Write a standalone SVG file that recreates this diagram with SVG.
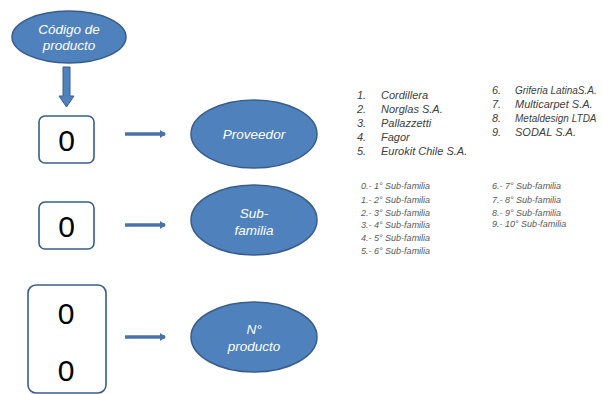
<svg xmlns="http://www.w3.org/2000/svg" width="603" height="394" viewBox="0 0 603 394">
  <defs>
    <marker id="head" markerWidth="6" markerHeight="8" refX="5" refY="4" orient="auto" markerUnits="userSpaceOnUse">
      <path d="M0,0 L6,4 L0,8 Z" fill="#4a72a8"/>
    </marker>
    <style>
      .oval { fill: #4f81bd; stroke: #385d8a; stroke-width: 1.5; }
      .oval-text { fill: #ffffff; font-family: "Liberation Sans", Arial, sans-serif; font-style: italic; font-size: 13.5px; text-anchor: middle; }
      .box { fill: #ffffff; stroke: #385d8a; stroke-width: 1.6; }
      .digit { fill: #000000; font-family: "Liberation Sans", Arial, sans-serif; font-size: 30px; text-anchor: middle; }
      .link { stroke: #4a72a8; stroke-width: 3.5; fill: none; marker-end: url(#head); }
      .list1 { fill: #404040; font-family: "Liberation Sans", Arial, sans-serif; font-style: italic; font-size: 11px; }
      .list1 .long { font-size: 10px; }
      .list2 { fill: #595959; font-family: "Liberation Sans", Arial, sans-serif; font-style: italic; font-size: 9px; }
    </style>
  </defs>

  <rect width="603" height="394" fill="#ffffff"/>

  <!-- product code -->
  <g id="codigo">
    <ellipse class="oval" cx="69" cy="37" rx="57" ry="26"/>
    <text class="oval-text" x="69" y="34">Código de</text>
    <text class="oval-text" x="69" y="50">producto</text>
  </g>

  <!-- digit boxes -->
  <g id="box-proveedor">
    <rect class="box" x="39" y="116" width="55" height="47" rx="6"/>
    <text class="digit" x="66.5" y="151">0</text>
  </g>
  <g id="box-subfamilia">
    <rect class="box" x="39" y="202" width="55" height="47" rx="6"/>
    <text class="digit" x="66.5" y="237">0</text>
  </g>
  <g id="box-producto">
    <rect class="box" x="28" y="285" width="78" height="108" rx="8"/>
    <text class="digit" x="66" y="324">0</text>
    <text class="digit" x="66" y="381">0</text>
  </g>

  <!-- field ovals -->
  <g id="proveedor">
    <ellipse class="oval" cx="254" cy="134" rx="63" ry="34"/>
    <text class="oval-text" x="254" y="139">Proveedor</text>
  </g>
  <g id="subfamilia">
    <ellipse class="oval" cx="254" cy="220" rx="63" ry="35"/>
    <text class="oval-text" x="254" y="218">Sub-</text>
    <text class="oval-text" x="254" y="235">familia</text>
  </g>
  <g id="nproducto">
    <ellipse class="oval" cx="254" cy="337" rx="63" ry="35"/>
    <text class="oval-text" x="254" y="334">N°</text>
    <text class="oval-text" x="254" y="351">producto</text>
  </g>

  <!-- connectors -->
  <g id="connectors">
    <path d="M63,67 L70,67 L70,96 L74,96 L66.5,107 L59,96 L63,96 Z" fill="#4f81bd" stroke="#385d8a" stroke-width="1"/>
    <line class="link" x1="125" y1="134" x2="165" y2="134"/>
    <line class="link" x1="125" y1="225" x2="165" y2="225"/>
    <line class="link" x1="125" y1="337" x2="165" y2="337"/>
  </g>

  <!-- supplier list -->
  <g id="lista-proveedores" class="list1">
    <text x="357" y="99">1.</text><text x="381" y="99">Cordillera</text>
    <text x="357" y="113">2.</text><text x="381" y="113">Norglas S.A.</text>
    <text x="357" y="127">3.</text><text x="381" y="127">Pallazzetti</text>
    <text x="357" y="141">4.</text><text x="381" y="141">Fagor</text>
    <text x="357" y="155">5.</text><text x="381" y="155">Eurokit Chile S.A.</text>
    <text x="492" y="94">6.</text><text class="long" x="515" y="94">Griferia LatinaS.A.</text>
    <text x="492" y="108">7.</text><text x="515" y="108">Multicarpet S.A.</text>
    <text x="492" y="122">8.</text><text class="long" x="515" y="122">Metaldesign LTDA</text>
    <text x="492" y="136">9.</text><text x="515" y="136">SODAL S.A.</text>
  </g>

  <!-- sub-family list -->
  <g id="lista-subfamilias" class="list2">
    <text x="361" y="189">0.- 1° Sub-familia</text>
    <text x="361" y="203">1.- 2° Sub-familia</text>
    <text x="361" y="216">2.- 3° Sub-familia</text>
    <text x="361" y="228">3.- 4° Sub-familia</text>
    <text x="361" y="241">4.- 5° Sub-familia</text>
    <text x="361" y="254">5.- 6° Sub-familia</text>
    <text x="492" y="189">6.- 7° Sub-familia</text>
    <text x="492" y="203">7.- 8° Sub-familia</text>
    <text x="492" y="216">8.- 9° Sub-familia</text>
    <text x="492" y="227">9.- 10° Sub-familia</text>
  </g>
</svg>
